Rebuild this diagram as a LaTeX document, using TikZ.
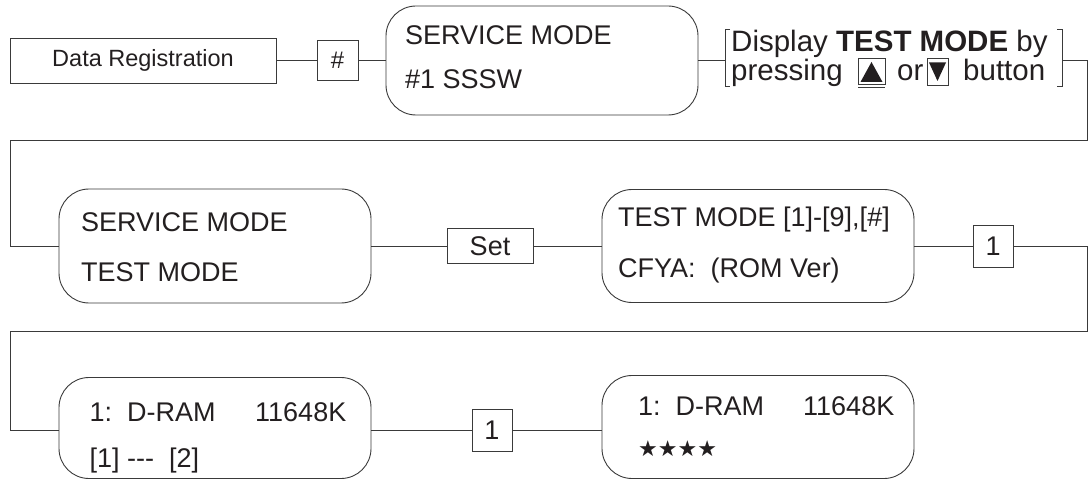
\documentclass[tikz,border=0pt]{standalone}
\usepackage{fontspec}
\setmainfont{Liberation Sans}
\newfontfamily\symfont{DejaVu Sans}
\definecolor{ln}{HTML}{3A3A3A}
\definecolor{tx}{HTML}{231F20}
\tikzset{
  rbox/.style={draw=ln, line width=0.9pt, rounded corners=30pt, minimum width=312pt, inner sep=0pt},
  kbox/.style={draw=ln, line width=0.9pt, inner sep=0pt},
  conn/.style={draw=ln, line width=0.9pt},
  lbl/.style={anchor=base west, inner sep=0pt, text=tx, font=\fontsize{27}{32}\selectfont},
  note/.style={anchor=base west, inner sep=0pt, text=tx, font=\fontsize{29.5}{34}\selectfont},
}
\begin{document}
\begin{tikzpicture}[x=1pt,y=-1pt]
\useasboundingbox (0,0) rectangle (1090,481);
% row 1
\node[kbox, minimum width=266pt, minimum height=45pt, font=\fontsize{23.5}{28}\selectfont, text=tx] (dr) at (143,60.5) {Data Registration};
\node[kbox, minimum width=41pt, minimum height=40pt, font=\fontsize{24}{28}\selectfont, text=tx] (hash) at (337.5,60) {\#};
\node[rbox, minimum height=109pt] (sm1) at (542,60.5) {};
\node[lbl] (sm1a) at (405,45) {SERVICE MODE};
\node[lbl] (sm1b) at (405,89) {\#1 SSSW};
% bracket note
\coordinate (lb) at (725,60.5);
\coordinate (rb) at (1062,60.5);
\draw[conn] (730,29) -- (725,29) -- (725,86) -- (730,86);
\draw[conn] (1057,29) -- (1062,29) -- (1062,86) -- (1057,86);
\node[note] (disp) at (731,52) {Display \textbf{TEST MODE} by};
\node[note] (press) at (731,81) {pressing};
\node[kbox, minimum width=27pt, minimum height=26pt] (up) at (871.5,71) {};
\draw[conn] (858,87.5) -- (885,87.5);
\fill[tx] (860.5,82) -- (882.5,82) -- (871.5,62) -- cycle;
\node[note] (or) at (897,81) {or};
\node[kbox, minimum width=21pt, minimum height=27pt] (down) at (937.5,71.5) {};
\fill[tx] (929,62.5) -- (946,62.5) -- (937.5,81) -- cycle;
\node[note] (btn) at (963,81) {button};
% row 2
\node[rbox, minimum height=114pt] (sm2) at (215,246) {};
\node[lbl] (sm2a) at (81,232) {SERVICE MODE};
\node[lbl] (sm2b) at (81,282) {TEST MODE};
\node[kbox, minimum width=86pt, minimum height=35pt, font=\fontsize{27}{32}\selectfont, text=tx] (set) at (490,246) {Set};
\node[rbox, minimum height=113pt] (tm) at (758,246) {};
\node[lbl] (tma) at (618,227) {TEST MODE [1]-[9],[\#]};
\node[lbl] (tmb) at (618,277) {CFYA:\ \ (ROM Ver)};
\node[kbox, minimum width=40pt, minimum height=42pt, font=\fontsize{27}{32}\selectfont, text=tx] (one1) at (993,246) {1};
% row 3
\node[rbox, minimum height=101pt] (dr1) at (215,428) {};
\node[lbl] (dr1a) at (89.5,421) {1:\ \ D-RAM};
\node[lbl] (dr1b) at (255,421) {11648K};
\node[lbl] (dr1c) at (89.5,467) {[1] -{}-{}-\ \ [2]};
\node[kbox, minimum width=40pt, minimum height=42pt, font=\fontsize{27}{32}\selectfont, text=tx] (one2) at (492,430) {1};
\node[rbox, minimum height=103pt] (dr2) at (758,427) {};
\node[lbl] (dr2a) at (638,415) {1:\ \ D-RAM};
\node[lbl] (dr2b) at (803,415) {11648K};
\node[lbl, font=\fontsize{22}{26}\symfont] (stars) at (638,456) {★★★★};
% connectors
\draw[conn] (dr.east) -- (dr.east -| hash.west);
\draw[conn] (hash.east) -- (hash.east -| sm1.west);
\draw[conn] (sm1.east) -- (lb);
\draw[conn] (rb) -- (1087,60.5) -- (1087,140) -- (10,140) -- (10,246) -- (sm2.west);
\draw[conn] (sm2.east) -- (set.west);
\draw[conn] (set.east) -- (tm.west);
\draw[conn] (tm.east) -- (one1.west);
\draw[conn] (one1.east) -- (1087,246) -- (1087,331) -- (10,331) -- (10,430) -- (dr1.west |- one2.west);
\draw[conn] (dr1.east |- one2.west) -- (one2.west);
\draw[conn] (one2.east) -- (dr2.west |- one2.east);
\end{tikzpicture}
\end{document}
